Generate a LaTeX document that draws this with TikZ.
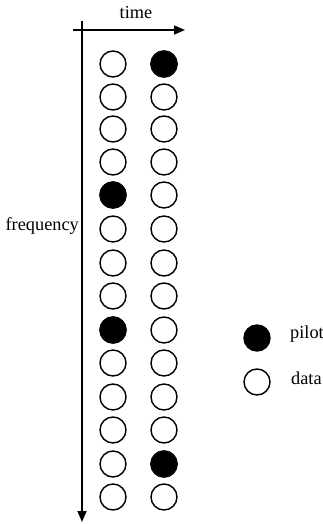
\documentclass[tikz,border=0pt]{standalone}
\usepackage{fontspec}
\setmainfont{Liberation Serif}
\usetikzlibrary{arrows.meta}
\begin{document}
\begin{tikzpicture}[x=1pt,y=-1pt,
  cell/.style={circle,draw=black,line width=1.4pt,minimum size=26pt,inner sep=0pt},
  datacell/.style={cell,fill=white},
  pilotcell/.style={cell,fill=black},
  axis/.style={line width=1.6pt,-{Triangle[length=11pt,width=9pt]}},
  lbl/.style={font=\fontsize{18.3}{21}\selectfont,inner sep=0pt}]
\useasboundingbox (0,0) rectangle (323,524);

% axes
\coordinate (tstart) at (73,30);
\coordinate (tend) at (185,30);
\coordinate (fstart) at (82,21);
\coordinate (fend) at (82,522);
\draw[axis] (tstart) -- (tend);
\draw[axis] (fstart) -- (fend);
\node[lbl] (timelbl) at (136,13) {time};
\node[lbl,anchor=east] (freqlbl) at (79,226) {frequency};

% resource grid: two symbols, fourteen subcarriers
\foreach \r/\y in {1/64,2/97,3/129,4/162,5/195,6/229,7/263,8/296,9/330,10/363,11/397,12/430,13/464,14/497}{
  \node[datacell] (a\r) at (113,\y) {};
  \node[datacell] (b\r) at (164,\y) {};
}
\node[pilotcell] at (a5) {};
\node[pilotcell] at (a9) {};
\node[pilotcell] at (b1) {};
\node[pilotcell] at (b13) {};

% legend
\node[pilotcell] (lp) at (257,338) {};
\node[lbl,anchor=west] (lpt) at (290,334) {pilot};
\node[datacell] (ld) at (257,382) {};
\node[lbl,anchor=west] (ldt) at (291,378) {data};
\end{tikzpicture}
\end{document}
